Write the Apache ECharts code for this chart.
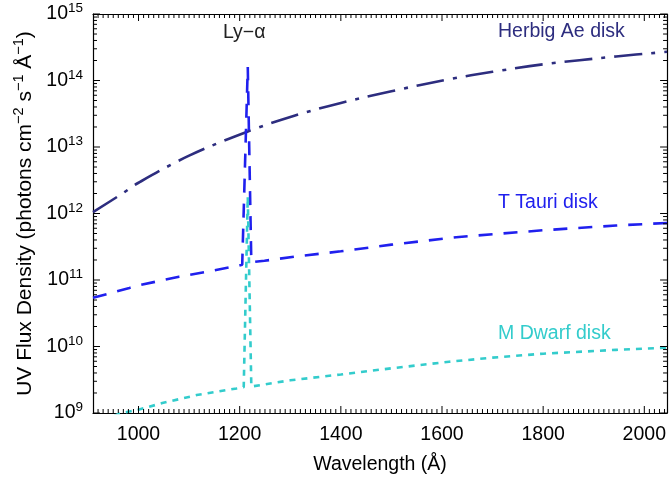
<!DOCTYPE html>
<html>
<head>
<meta charset="utf-8">
<script src="https://cdn.jsdelivr.net/npm/echarts@6/dist/echarts.min.js"></script>
<style>
  html, body { margin: 0; padding: 0; background: #fff; }
  #chart { width: 669px; height: 480px; }
</style>
</head>
<body>
<div id="chart"></div>
<script>
// UV flux density of disk models, log scale (photons cm^-2 s^-1 Å^-1)
const herbigWave = [910, 966, 1000, 1100, 1215, 1308, 1400, 1500, 1615, 1700, 1800, 1944, 2045];
const herbigFlux = [1.05e12, 1.95e12, 2.9e12, 7.4e12, 1.7e13, 2.95e13, 4.6e13, 6.9e13, 1.05e14, 1.35e14, 1.75e14, 2.3e14, 2.7e14];

const tTauriWave = [910, 982, 1000, 1080, 1150, 1194, 1205, 1216, 1223, 1249, 1320, 1400, 1500, 1628, 1800, 1944, 2045];
const tTauriFlux = [5.4e10, 7.6e10, 8.3e10, 1.12e11, 1.4e11, 1.62e11, 1.7e11, 1.6e14, 1.85e11, 1.95e11, 2.3e11, 2.7e11, 3.4e11, 4.4e11, 5.6e11, 6.6e11, 7.2e11];

const mDwarfWave = [930, 966, 998, 1047, 1115, 1194, 1208, 1216, 1223, 1300, 1400, 1500, 1614, 1700, 1800, 1944, 2045];
const mDwarfFlux = [7.9e8, 1.0e9, 1.11e9, 1.41e9, 1.86e9, 2.34e9, 2.45e9, 1.8e12, 2.5e9, 3.1e9, 3.8e9, 4.7e9, 5.9e9, 6.8e9, 7.8e9, 8.9e9, 9.6e9];

const waveMin = 910, waveMax = 2045;
const fluxMin = 1e9, fluxMax = 1e15;

const colors = { herbig: '#2d2d7f', tTauri: '#2020ee', mDwarf: '#33cccc' };

const zip = (xs, ys) => xs.map((x, i) => [x, ys[i]]);

// tick positions: every 10 Å on x (long every 200 Å), 2..9 × 10^n on y (long at decades)
const xMajor = [], xMinor = [];
for (let w = 920; w < waveMax; w += 10) (w % 200 === 0 ? xMajor : xMinor).push(w);
const yMajor = [], yMinor = [];
for (let e = 9; e <= 15; e++) {
  for (let k = 1; k <= 9; k++) {
    const v = k * Math.pow(10, e);
    if (v > fluxMax) break;
    (k === 1 ? yMajor : yMinor).push(v);
  }
}

const fontFamily = '"Liberation Sans", Arial, Helvetica, sans-serif';
const fs = 19.5;
const sup = 13.5;

const chart = echarts.init(document.getElementById('chart'), null, { renderer: 'canvas' });

function lineSeries(name, data, color, dash, smooth) {
  return {
    name, type: 'line', data, showSymbol: false, symbol: 'none', smooth: smooth || false, clip: true,
    lineStyle: { color, width: 2.6, type: dash, cap: 'butt' }, z: 3, animation: false
  };
}

// inward tick marks drawn as thin rectangles sitting on the frame
function tickSeries(points, side, len) {
  const vertical = side === 'bottom' || side === 'top';
  const sign = (side === 'bottom' || side === 'right') ? -1 : 1;
  return {
    type: 'scatter', data: points, symbol: 'rect', silent: true, clip: false, z: 10,
    symbolSize: vertical ? [1, len] : [len, 1],
    symbolOffset: vertical ? [0, sign * len / 2] : [sign * len / 2, 0],
    itemStyle: { color: '#000', opacity: 1 }, emphasis: { disabled: true }, animation: false
  };
}

const axisLine = () => ({ show: true, lineStyle: { color: '#000', width: 1.2 } });

const option = {
  backgroundColor: '#fff',
  animation: false,
  grid: { left: 93, right: 1, top: 14, bottom: 67, containLabel: false },
  xAxis: [{
    type: 'value', min: waveMin, max: waveMax,
    name: 'Wavelength (Å)', nameLocation: 'middle', nameGap: 42,
    nameTextStyle: { fontSize: fs, fontFamily, color: '#000' },
    axisLine: axisLine(), axisTick: { show: false },
    axisLabel: { fontSize: fs, fontFamily, color: '#000', margin: 12, showMinLabel: false, showMaxLabel: false,
      formatter: v => String(v) },
    splitLine: { show: false }
  }, {
    type: 'value', min: waveMin, max: waveMax, position: 'top',
    axisLine: axisLine(), axisTick: { show: false }, axisLabel: { show: false }, splitLine: { show: false }
  }],
  yAxis: [{
    type: 'log', logBase: 10, min: fluxMin, max: fluxMax,
    name: '{t|UV Flux Density (photons cm}{s|−2}{t| s}{s|−1}{t| Å}{s|−1}{t|)}',
    nameLocation: 'middle', nameGap: 45, nameRotate: 90,
    nameTextStyle: {
      rich: {
        t: { fontSize: 21, fontFamily, color: '#000' },
        s: { fontSize: 14.5, fontFamily, color: '#000', padding: [0, 0, 12, 0] }
      }
    },
    axisLine: axisLine(), axisTick: { show: false },
    axisLabel: {
      margin: 10,
      formatter: v => '{b|10}{s|' + Math.round(Math.log10(v)) + '}',
      rich: {
        b: { fontSize: fs, fontFamily, color: '#000' },
        s: { fontSize: sup, fontFamily, color: '#000', padding: [0, 0, 11, 0] }
      }
    },
    splitLine: { show: false }
  }, {
    type: 'log', logBase: 10, min: fluxMin, max: fluxMax, position: 'right',
    axisLine: axisLine(), axisTick: { show: false }, axisLabel: { show: false }, splitLine: { show: false }
  }],
  series: [
    lineSeries('Herbig Ae disk', zip(herbigWave, herbigFlux), colors.herbig, [28, 9, 4, 9], 0.35),
    lineSeries('T Tauri disk', zip(tTauriWave, tTauriFlux), colors.tTauri, [14, 11]),
    lineSeries('M Dwarf disk', zip(mDwarfWave, mDwarfFlux), colors.mDwarf, [6, 6]),
    tickSeries(xMinor.map(w => [w, fluxMin]), 'bottom', 4),
    tickSeries(xMajor.map(w => [w, fluxMin]), 'bottom', 7),
    tickSeries(xMinor.map(w => [w, fluxMax]), 'top', 4),
    tickSeries(xMajor.map(w => [w, fluxMax]), 'top', 7),
    tickSeries(yMinor.map(v => [waveMin, v]), 'left', 4),
    tickSeries(yMajor.map(v => [waveMin, v]), 'left', 7),
    tickSeries(yMinor.map(v => [waveMax, v]), 'right', 4),
    tickSeries(yMajor.map(v => [waveMax, v]), 'right', 7)
  ],
  graphic: [
    { type: 'text', left: 223, top: 23, style: { text: 'Ly−α', fontSize: fs, fontFamily, fill: '#222' } },
    { type: 'text', left: 498, top: 22, style: { text: 'Herbig Ae disk', fontSize: fs, fontFamily, fill: colors.herbig } },
    { type: 'text', left: 498, top: 193, style: { text: 'T Tauri disk', fontSize: fs, fontFamily, fill: colors.tTauri } },
    { type: 'text', left: 498, top: 324, style: { text: 'M Dwarf disk', fontSize: fs, fontFamily, fill: colors.mDwarf } }
  ]
};

chart.setOption(option);
</script>
</body>
</html>
